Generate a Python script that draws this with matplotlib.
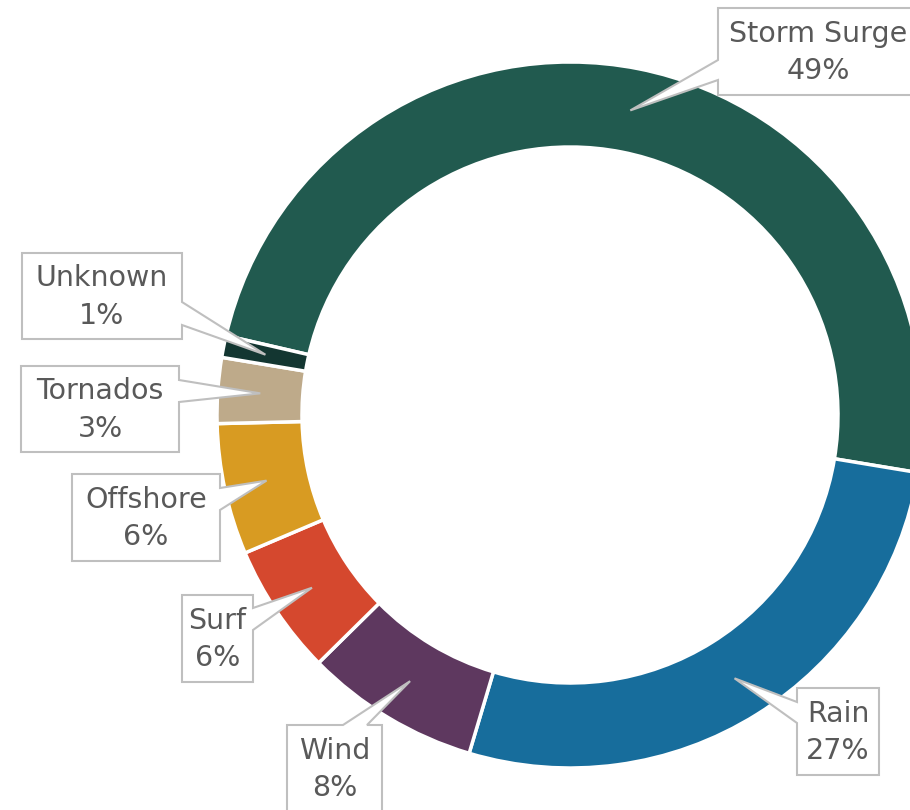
import numpy as np
import matplotlib
matplotlib.use("Agg")
import matplotlib.pyplot as plt
from matplotlib.patches import Polygon

# Share of fatalities by cause
causes = ["Storm Surge", "Rain", "Wind", "Surf", "Offshore", "Tornados", "Unknown"]
shares = [49, 27, 8, 6, 6, 3, 1]
colors = ["#215A4F", "#176D9C", "#5E385F", "#D5482E", "#D89B22", "#BEAA8A", "#133631"]

W, H = 910, 810
CX, CY = 570, H - 415
R_OUT = 353
R_IN = 268
START = 167

# callout boxes (left, top, right, bottom in pixels from top-left), side carrying the pointer,
# and the span of the pointer base along that side
callouts = {
    "Storm Surge": ((718, 8, 930, 95), "left", (60, 80)),
    "Rain": ((797, 688, 879, 775), "left", (702, 723)),
    "Wind": ((287, 725, 382, 812), "top", (343, 367)),
    "Surf": ((182, 595, 253, 682), "right", (608, 630)),
    "Offshore": ((72, 474, 220, 561), "right", (488, 510)),
    "Tornados": ((21, 366, 179, 452), "right", (380, 402)),
    "Unknown": ((22, 253, 182, 339), "right", (302, 325)),
}

fig = plt.figure(figsize=(W / 100, H / 100), dpi=100)
ax = fig.add_axes([0, 0, 1, 1])

wedges, _ = ax.pie(shares, colors=colors, startangle=START, counterclock=False,
                   center=(CX, CY), radius=R_OUT,
                   wedgeprops=dict(width=R_OUT - R_IN, edgecolor="white", linewidth=2.5))

ax.set_xlim(0, W)
ax.set_ylim(0, H)
ax.set_aspect("equal")
ax.axis("off")

r_mid = (R_OUT + R_IN) / 2
for name, share, w in zip(causes, shares, wedges):
    mid = np.deg2rad((w.theta1 + w.theta2) / 2)
    tip = (CX + r_mid * np.cos(mid), CY + r_mid * np.sin(mid))
    (l, t, r, b), side, (s0, s1) = callouts[name]
    yt, yb = H - t, H - b
    if side == "left":
        pts = [(l, yt), (r, yt), (r, yb), (l, yb), (l, H - s1), tip, (l, H - s0)]
    elif side == "right":
        pts = [(l, yt), (r, yt), (r, H - s0), tip, (r, H - s1), (r, yb), (l, yb)]
    else:
        pts = [(l, yt), (s0, yt), tip, (s1, yt), (r, yt), (r, yb), (l, yb)]
    ax.add_patch(Polygon(pts, closed=True, facecolor="white", edgecolor="#BFBFBF",
                         linewidth=1.5, zorder=5))
    cx_text = (l + min(r, 918)) / 2
    ax.text(cx_text, (yt + yb) / 2 - 1, f"{name}\n{share}%", ha="center", va="center",
            multialignment="center", fontsize=20.5, color="#595959",
            linespacing=1.45, zorder=6, fontfamily="DejaVu Sans")

fig.savefig("out.png", dpi=100)
